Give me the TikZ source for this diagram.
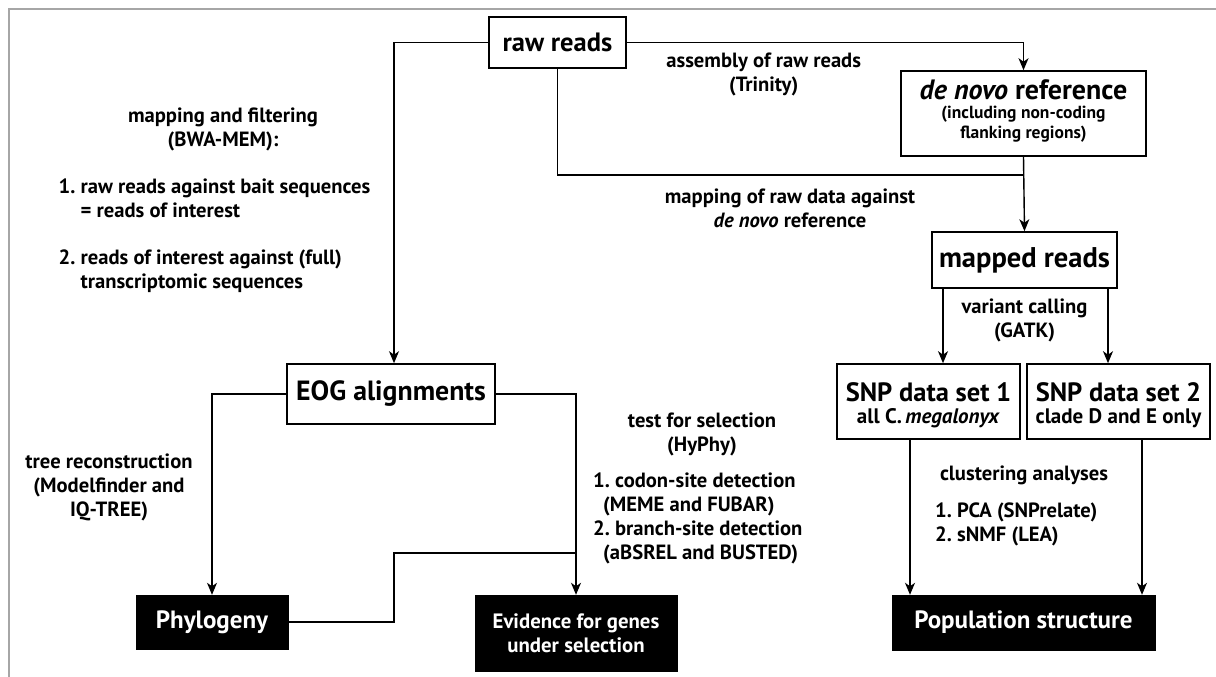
\documentclass[tikz,border=0pt]{standalone}
\usepackage{fontspec}
\setmainfont{PT Sans}
\usetikzlibrary{arrows.meta}
\begin{document}
\begin{tikzpicture}[x=1pt,y=-1pt,
  box/.style={draw=black,line width=1.6pt,fill=white,inner sep=0pt,align=center,font=\bfseries},
  blk/.style={draw=black,fill=black,text=white,inner sep=0pt,align=center,font=\bfseries\fontsize{25}{28}\selectfont},
  lab/.style={inner sep=0pt,font=\bfseries\fontsize{20.6}{24}\selectfont},
  con/.style={line width=1.4pt},
  arr/.style={con,-{Stealth[length=12pt,width=10pt,inset=3.5pt]}}]
\useasboundingbox (0,0) rectangle (1216,677);
\draw[line width=1.6pt,gray!70] (9,677) -- (9,9) -- (1216,9);
% boxes
\node[box,minimum width=137pt,minimum height=51pt,font=\bfseries\fontsize{26.5}{28}\selectfont] (raw) at (557.5,42.5) {raw reads};
\node[box,minimum width=245pt,minimum height=85pt] (denovo) at (1023.5,113.5) {};
\node[inner sep=0pt,font=\bfseries\fontsize{28}{30}\selectfont] (dnt) at (1023.5,90) {\textit{de novo} reference};
\node[inner sep=0pt,align=center,font=\bfseries\fontsize{17.5}{20}\selectfont] (dns) at (1023.5,124) {(including non-coding\\flanking regions)};
\node[box,minimum width=185pt,minimum height=56pt,font=\bfseries\fontsize{28.5}{30}\selectfont] (mapped) at (1024.5,260) {mapped reads};
\node[box,minimum width=183pt,minimum height=75pt] (snp1) at (928.5,401.5) {};
\node[box,minimum width=183pt,minimum height=75pt] (snp2) at (1118.5,401.5) {};
\node[inner sep=0pt,font=\bfseries\fontsize{26.5}{28}\selectfont] (s1t) at (928.5,392) {SNP data set 1};
\node[inner sep=0pt,font=\bfseries\fontsize{21}{22}\selectfont] (s1s) at (928.5,418) {all C.\,\textit{megalonyx}};
\node[inner sep=0pt,font=\bfseries\fontsize{26.5}{28}\selectfont] (s2t) at (1118.5,392) {SNP data set 2};
\node[inner sep=0pt,font=\bfseries\fontsize{21}{22}\selectfont] (s2s) at (1118.5,418) {clade D and E only};
\node[blk,minimum width=263pt,minimum height=55pt] (pop) at (1023.5,622.5) {Population structure};
\node[box,minimum width=208pt,minimum height=60pt,font=\bfseries\fontsize{27.8}{30}\selectfont] (eog) at (391,394) {EOG alignments};
\node[blk,minimum width=152pt,minimum height=54pt] (phylo) at (212,622) {Phylogeny};
\node[blk,minimum width=202pt,minimum height=76pt,font=\bfseries\fontsize{20.8}{24}\selectfont] (evid) at (576,633) {Evidence for genes\\under selection};
% coordinates
\coordinate (xl) at (394,0);
\coordinate (j1) at (1023.5,175);
\coordinate (xa) at (943,0);
\coordinate (xb) at (1108,0);
\coordinate (xc) at (910,0);
\coordinate (xd) at (1142,0);
\coordinate (ja) at (394,622);
\coordinate (jb) at (394,553);
\coordinate (jc) at (576,553);
% connectors
\draw[arr] (raw.west) -| (eog.north -| xl);
\draw[arr] (raw.east) -| (denovo.north);
\draw[con] (raw.south) |- (j1);
\draw[arr] (denovo.south) -- (mapped.north);
\draw[arr] (mapped.south -| xa) -- (snp1.north -| xa);
\draw[arr] (mapped.south -| xb) -- (snp2.north -| xb);
\draw[arr] (snp1.south -| xc) -- (pop.north -| xc);
\draw[arr] (snp2.south -| xd) -- (pop.north -| xd);
\draw[arr] (eog.west) -| (phylo.north);
\draw[arr] (eog.east) -| (evid.north);
\draw[con] (phylo.east) -- (ja) -- (jb) -- (jc);
% labels
\node[lab,align=center] (l1) at (223,129.5) {mapping and filtering\\(BWA-MEM):};
\node[lab,align=left,anchor=west] (l2) at (58.5,198) {1.\ raw reads against bait sequences\\\phantom{1.\ }= reads of interest};
\node[lab,align=left,anchor=west] (l3) at (58.5,271) {2.\ reads of interest against (full)\\\phantom{2.\ }transcriptomic sequences};
\node[lab,align=center] (l4) at (763.7,74.5) {assembly of raw reads\\(Trinity)};
\node[lab,align=center] (l5) at (790,208.5) {mapping of raw data against\\\textit{de novo} reference};
\node[lab,align=center] (l6) at (1024.5,320.5) {variant calling\\(GATK)};
\node[lab,align=center] (l7) at (109,487) {tree reconstruction\\(Modelfinder and\\IQ-TREE)};
\node[lab,align=center] (l8) at (702,434.5) {test for selection\\(HyPhy)};
\node[lab,align=left,anchor=west] (l9) at (593,518.5) {1.\ codon-site detection\\\hspace*{10pt}(MEME and FUBAR)\\2.\ branch-site detection\\\hspace*{10pt}(aBSREL and BUSTED)};
\node[lab] (l10) at (1024,475) {clustering analyses};
\node[lab,align=left,anchor=west] (l11) at (935,524) {1.\ PCA (SNPrelate)\\2.\ sNMF (LEA)};
\end{tikzpicture}
\end{document}
